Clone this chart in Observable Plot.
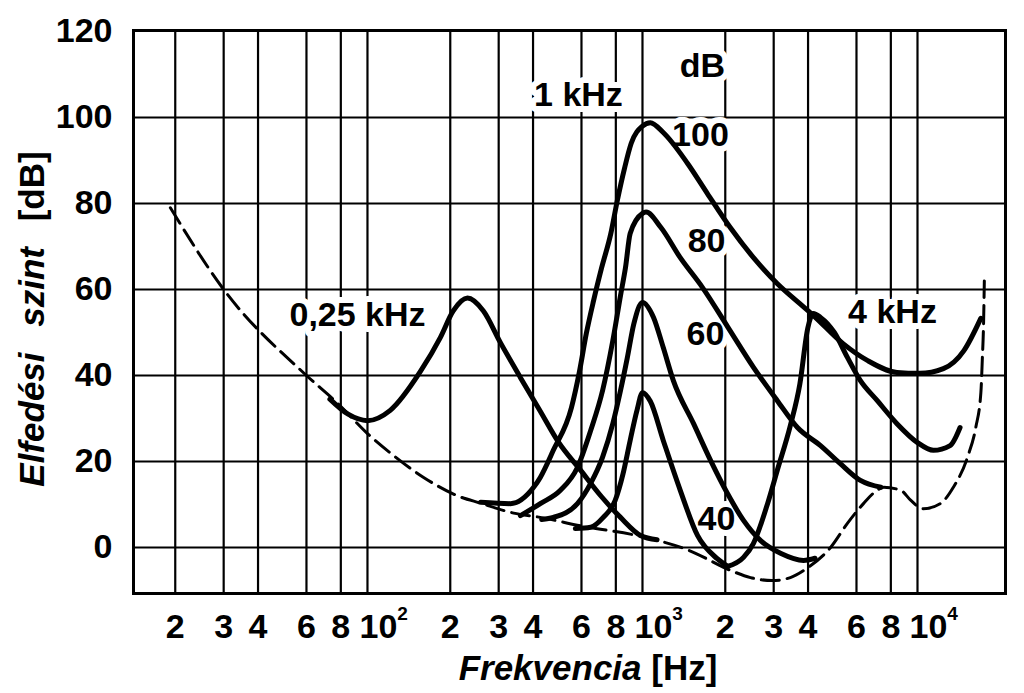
<!DOCTYPE html>
<html><head><meta charset="utf-8">
<script src="https://cdn.jsdelivr.net/npm/d3@7"></script>
<script src="https://cdn.jsdelivr.net/npm/@observablehq/plot@0.6"></script>
<style>
html,body{margin:0;padding:0;background:#fff;}
#chart svg{display:block;}
</style></head><body><div id="chart"></div>
<script>
// Grid and ticks
const gridFreq = [20,30,40,60,80,100,200,300,400,600,800,1000,2000,3000,4000,6000,8000,10000];
const gridDb = [0,20,40,60,80,100];
const xTickFreq = [20,30,40,60,80,200,300,400,600,800,2000,3000,4000,6000,8000];
const xTickText = ["2","3","4","6","8","2","3","4","6","8","2","3","4","6","8"];
const decadeFreq = [100,1000,10000];
const decadeText = ["10²","10³","10⁴"];
const yTicks = [0,20,40,60,80,100,120];
const yTickText = ["0","20","40","60","80","100","120"];

// Hearing threshold in quiet (dashed)  [Hz, dB]
const threshold = [[19.2,79],[30,60],[60,40],[78,33.5],[100,26.5],[121,22],[160,16.3],[213,12],[258,10.3],[340,8],[425,7],[600,5],[1000,2.5],[1480,-0.7],[2085,-5.3],[2470,-7],[2960,-7.7],[3450,-7],[3990,-4.7],[4830,0],[5560,5.6],[6360,10.2],[7130,13.3],[7540,14],[8690,13.3],[9440,11],[10500,9],[12100,10.2],[13500,14],[15200,21],[16300,28],[17000,36],[17200,43.5],[17400,53],[17500,62]];

// Masked thresholds  [Hz, dB]
const masker250 = [[73,34.5],[85,31],[100,29.5],[121,31.9],[156,41],[184,48.8],[205,55],[231,58],[264,55],[304,47.7],[360,39.5],[425,31.7],[495,24.5],[595,18],[710,11.8],[832,7],[984,2.8],[1130,1.8]];
const masker1k100 = [[258,10.5],[331,10.2],[402,14],[425,16.3],[474,22.6],[552,32.6],[589,40.7],[625,49.8],[664,57.4],[710,65],[767,73],[810,80.7],[859,88],[910,94],[1000,98],[1068,98.8],[1190,96.5],[1459,89.3],[1722,82.3],[2085,74.4],[2533,67.4],[3088,61.4],[3734,56.7],[4175,54],[5362,47.4],[6570,43.5],[8420,40.7],[10180,40.5],[12420,41.6],[14750,45.8],[16990,53.3]];
const masker1k80 = [[360,7.4],[425,10.2],[503,13.3],[580,18.6],[648,27.2],[716,36.5],[780,48.1],[832,58.6],[867,65],[902,73],[1000,77.7],[1030,78],[1167,74.4],[1372,67.4],[1651,60.5],[2046,51.2],[2533,41.9],[3088,34.2],[3660,27.9],[4440,23.7],[5240,19.5],[6200,15.6],[7360,14]];
const masker1k60 = [[430,6.5],[474,7],[580,10.2],[648,14.9],[716,21],[780,28.8],[832,36.5],[880,44],[930,52],[1000,57],[1097,53.5],[1190,46.5],[1295,38.8],[1534,28.8],[1770,20.2],[2035,12.6],[2330,6.3],[2690,1.6],[3190,-1.4],[3850,-3],[4240,-2.5]];
const masker1k40 = [[570,4.4],[648,4.7],[720,7],[795,10.9],[850,17.2],[902,24.9],[955,31.9],[1000,36],[1068,34],[1190,24.9],[1372,13.3],[1585,2.8],[1870,-2.6],[2040,-4.4]];
const masker4k = [[2040,-4.4],[2330,-2.3],[2530,0.9],[2850,10.2],[3090,17.9],[3450,28.4],[3734,38],[3990,51],[4180,54.4],[4440,53.5],[4985,50],[5560,44.2],[6200,38.8],[7130,34.2],[8420,28.8],[10000,24.4],[11420,22.6],[13140,23.7],[14280,27.9]];
const curves = [masker250, masker1k100, masker1k80, masker1k60, masker1k40, masker4k];

// Annotations
const labelText = ["0,25 kHz","1 kHz","dB","100","80","60","40","4 kHz"];
const labelFreq = [92,585,1652,1625,1710,1695,1858,8110];
const labelDb = [54.1,105.1,112,95.9,71.2,49.7,6.5,54.8];

const font = "'Liberation Sans', Arial, sans-serif";

const plot = Plot.plot({
  width: 1024, height: 693,
  marginLeft: 133, marginRight: 19, marginTop: 30, marginBottom: 100,
  style: {background: "white", color: "black", fontFamily: font, fontWeight: "bold", fontSize: "34px", overflow: "visible"},
  x: {type: "log", domain: [14.1, 20893]},
  y: {domain: [-10.7, 120.23]},
  marks: [
    Plot.ruleX(gridFreq, {stroke: "black", strokeWidth: 2.2}),
    Plot.ruleY(gridDb, {stroke: "black", strokeWidth: 2.2}),
    Plot.frame({stroke: "black", strokeWidth: 3}),
    Plot.axisY({ticks: yTicks, tickSize: 0, tickPadding: 21, fontSize: 34, text: d => yTickText[yTicks.indexOf(d)]}),
    Plot.axisX({ticks: xTickFreq, tickSize: 0, tickPadding: 20, fontSize: 34, text: d => xTickText[xTickFreq.indexOf(d)]}),
    Plot.axisX({ticks: decadeFreq, tickSize: 0, tickPadding: 20, fontSize: 34, textAnchor: "start", dx: -8, text: d => decadeText[decadeFreq.indexOf(d)]}),
    Plot.text(labelText, {x: labelFreq, y: labelDb, text: labelText, fontSize: 34, fill: "black", stroke: "white", strokeWidth: 12}),
    Plot.line(threshold, {x: d => d[0], y: d => d[1], curve: "monotone-x", stroke: "black", strokeWidth: 3, strokeDasharray: "18,8"}),
    ...curves.map(c => Plot.line(c, {x: d => d[0], y: d => d[1], curve: "monotone-x", stroke: "black", strokeWidth: 5, strokeLinecap: "round", strokeLinejoin: "round"}))
  ]
});

document.getElementById("chart").appendChild(plot);

// superscripts for decade labels
const supMap = {"²": "2", "³": "3", "⁴": "4"};
plot.querySelectorAll("text").forEach(t => {
  const m = t.textContent.match(/^10([²³⁴])$/);
  if (m) {
    t.textContent = "10";
    const ts = document.createElementNS("http://www.w3.org/2000/svg", "tspan");
    ts.setAttribute("dy", "-18");
    ts.setAttribute("font-size", "19");
    ts.textContent = supMap[m[1]];
    t.appendChild(ts);
  }
});

// axis titles
const svg = d3.select(plot);
const xt = svg.append("text")
  .attr("x", 588).attr("y", 680)
  .attr("text-anchor", "middle")
  .attr("font-family", font).attr("font-weight", "bold").attr("font-size", 35)
  .attr("fill", "black").style("white-space", "pre");
xt.append("tspan").attr("font-style", "italic").text("Frekvencia");
xt.append("tspan").text(" [Hz]");

const yt = svg.append("text")
  .attr("transform", "translate(44,319) rotate(-90)")
  .attr("text-anchor", "middle")
  .attr("font-family", font).attr("font-weight", "bold").attr("font-size", 35)
  .attr("fill", "black").style("white-space", "pre").style("word-spacing", "16px");
yt.append("tspan").attr("font-style", "italic").text("Elfedési szint");
yt.append("tspan").text(" [dB]");
</script>
</body></html>
